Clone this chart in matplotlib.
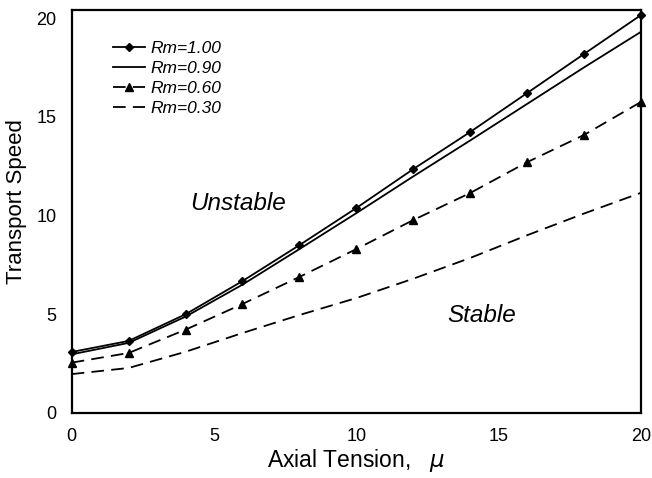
import matplotlib
matplotlib.use("Agg")
import matplotlib.pyplot as plt

plt.rcParams['font.family'] = ['Liberation Sans', 'DejaVu Sans']

mu = [0, 2, 4, 6, 8, 10, 12, 14, 16, 18, 20]
rm100 = [3.09, 3.65, 5.0, 6.68, 8.5, 10.38, 12.35, 14.23, 16.2, 18.18, 20.15]
rm090 = [2.97, 3.55, 4.88, 6.5, 8.3, 10.12, 11.98, 13.8, 15.65, 17.5, 19.3]
rm060 = [2.55, 3.04, 4.22, 5.52, 6.89, 8.3, 9.77, 11.14, 12.7, 14.08, 15.75]
rm030 = [1.97, 2.28, 3.1, 4.05, 4.96, 5.82, 6.8, 7.85, 9.0, 10.1, 11.15]

fig = plt.figure(figsize=(6.52, 4.78), dpi=100)
ax = fig.add_axes([0.110, 0.136, 0.873, 0.844])

lw = 1.3
ax.plot(mu, rm100, color='black', lw=lw, marker='D', markersize=4.5,
        label='Rm=1.00', clip_on=False)
ax.plot(mu, rm090, color='black', lw=lw, label='Rm=0.90', clip_on=False)
ax.plot(mu, rm060, color='black', lw=lw, marker='^', markersize=5.5,
        dashes=(7, 4), label='Rm=0.60', clip_on=False)
ax.plot(mu, rm030, color='black', lw=lw, dashes=(7, 4),
        label='Rm=0.30', clip_on=False)

ax.set_xlim(0, 20)
ax.set_ylim(0, 20.43)
ax.set_xticks([0, 5, 10, 15, 20])
ax.set_yticks([0, 5, 10, 15, 20])
ax.tick_params(length=0, labelsize=13, pad=11)
for s in ax.spines.values():
    s.set_linewidth(1.6)

ax.set_xlabel('Axial Tension,   $\\mu$', fontsize=16.5, labelpad=1)
ax.set_ylabel('Transport Speed', fontsize=16)
ax.yaxis.set_label_coords(-0.079, 0.525)

ax.text(5.83, 10.6, 'Unstable', fontsize=17.5, style='italic', ha='center', va='center')
ax.text(14.4, 4.96, 'Stable', fontsize=17.5, style='italic', ha='center', va='center')

leg = ax.legend(loc='upper left', bbox_to_anchor=(0.072, 0.923), frameon=False,
                prop={'size': 12.5, 'style': 'italic'}, handlelength=1.85,
                handletextpad=0.3, labelspacing=0.29, borderaxespad=0,
                borderpad=0)

fig.savefig('out.png', dpi=100)
